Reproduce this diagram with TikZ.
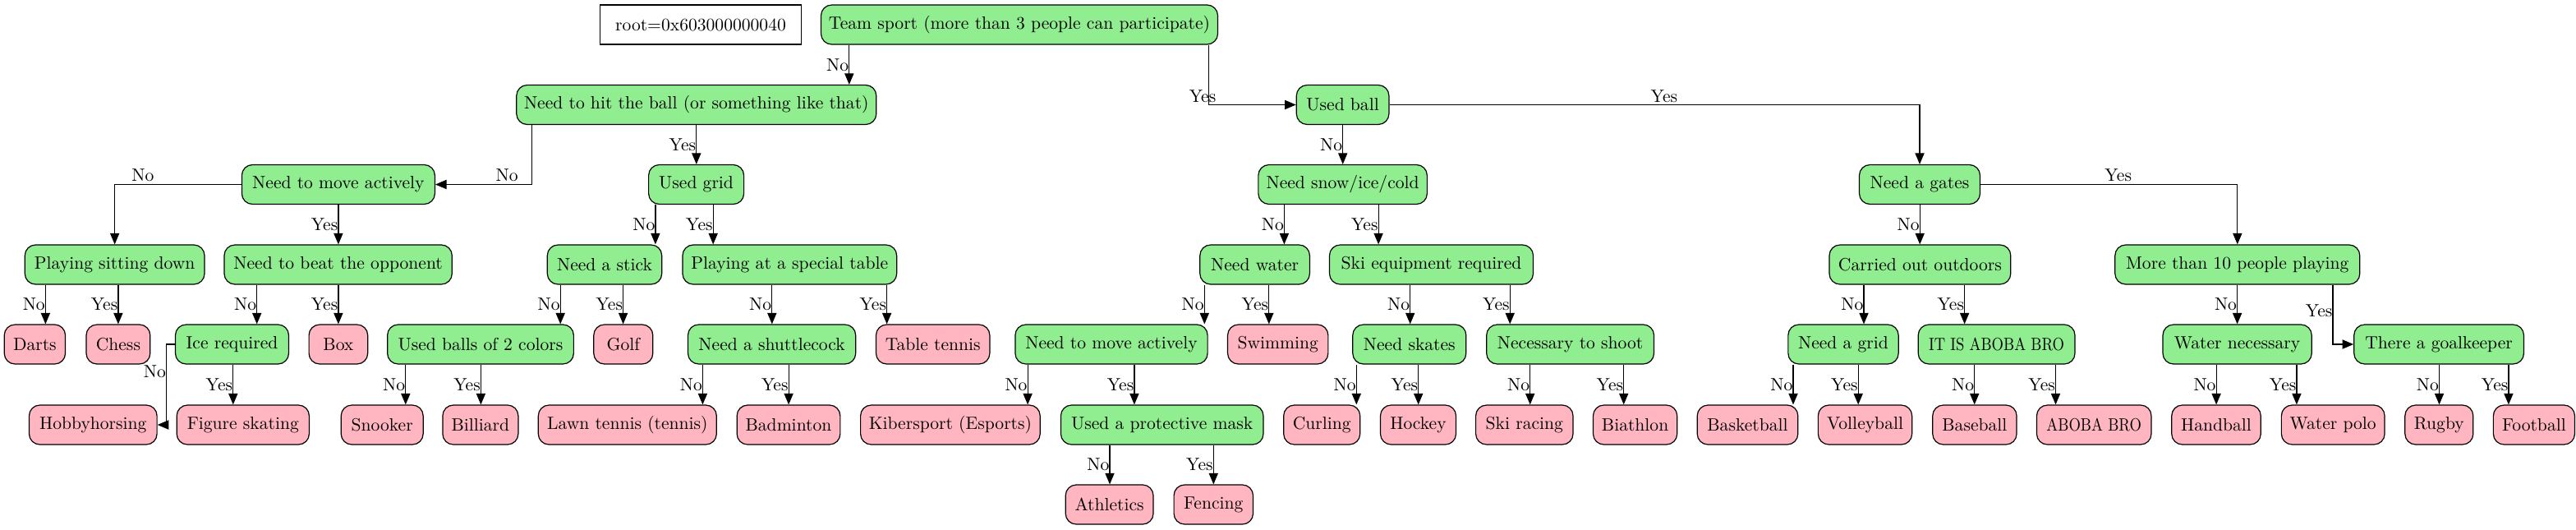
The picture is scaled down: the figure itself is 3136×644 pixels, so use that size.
\documentclass[tikz,border=0pt]{standalone}
\usepackage{graphicx}
\usetikzlibrary{arrows.meta}
\definecolor{lgreen}{HTML}{90EE90}
\definecolor{lpink}{HTML}{FFB6C1}
\newcommand\vedge[4]{\path (#3,0) coordinate (ex);
  \draw[edge] (#1.south -| ex) -- node[lab]{#4} (#2.north -| ex);}
\begin{document}
\begin{tikzpicture}[x=0.5pt,y=-0.5pt,
  every node/.style={font=\fontsize{10.8}{13}\selectfont},
  base/.style={draw=black, line width=0.6pt, rounded corners=6.5pt, minimum height=24pt, inner xsep=2pt, inner ysep=0pt},
  gnode/.style={base, fill=lgreen},
  pnode/.style={base, fill=lpink},
  rootbox/.style={draw=black, line width=0.6pt, fill=white, minimum height=24pt, inner ysep=0pt},
  edge/.style={draw=black, line width=0.6pt, -{Triangle[length=6.8pt,width=5.6pt]}},
  lab/.style={anchor=east, inner sep=0pt},
  hlab/.style={anchor=center, inner sep=0pt}]
\useasboundingbox (0,0) rectangle (3136,644);
% level 0
\node[rootbox, minimum width=122.25pt] (root) at (853,30) {root=0x603000000040};
\node[gnode, minimum width=241.5pt] (team) at (1241,30) {Team sport (more than 3 people can participate)};
% level 1
\node[gnode, minimum width=219pt] (hit) at (847.8,127.5) {Need to hit the ball (or something like that)};
\node[gnode, minimum width=56.3pt] (ball) at (1634.6,127.5) {Used ball};
% level 2
\node[gnode, minimum width=117.5pt] (nma1) at (411.9,224.5) {Need to move actively};
\node[gnode, minimum width=58pt] (grid) at (847.6,224.5) {Used grid};
\node[gnode, minimum width=102.75pt] (snow) at (1634.6,224.5) {Need snow/ice/cold};
\node[gnode, minimum width=73.5pt] (gates) at (2337,224.5) {Need a gates};
% level 3
\node[gnode, minimum width=109.35pt] (psd) at (139.65,322) {Playing sitting down};
\node[gnode, minimum width=138.65pt] (beat) at (411.65,322) {Need to beat the opponent};
\node[gnode, minimum width=69.7pt] (stick) at (736,322) {Need a stick};
\node[gnode, minimum width=130.35pt] (pst) at (961.3,322) {Playing at a special table};
\node[gnode, minimum width=66.8pt] (water) at (1527.6,322) {Need water};
\node[gnode, minimum width=124pt] (ski) at (1742.5,322) {Ski equipment required};
\node[gnode, minimum width=110.4pt] (outd) at (2337.4,322) {Carried out outdoors};
\node[gnode, minimum width=149pt] (more10) at (2723.8,322) {More than 10 people playing};
% level 4
\node[pnode, minimum width=37.15pt] (darts) at (42.4,419) {Darts};
\node[pnode, minimum width=38.9pt] (chess) at (143.9,419) {Chess};
\node[gnode, minimum width=69pt] (ice) at (282.5,419) {Ice required};
\node[pnode, minimum width=35.8pt] (box) at (411.9,419) {Box};
\node[gnode, minimum width=113.35pt] (balls2) at (585,419) {Used balls of 2 colors};
\node[pnode, minimum width=36pt] (golf) at (758.8,419) {Golf};
\node[gnode, minimum width=102.1pt] (shuttle) at (939.6,419) {Need a shuttlecock};
\node[pnode, minimum width=69.2pt] (ttennis) at (1135.7,419) {Table tennis};
\node[gnode, minimum width=117.1pt] (nma2) at (1353,419) {Need to move actively};
\node[pnode, minimum width=61.15pt] (swim) at (1555.7,419) {Swimming};
\node[gnode, minimum width=69pt] (skates) at (1715.8,419) {Need skates};
\node[gnode, minimum width=101.9pt] (shoot) at (1911.6,419) {Necessary to shoot};
\node[gnode, minimum width=67.15pt] (ngrid) at (2244,419) {Need a grid};
\node[gnode, minimum width=95.4pt] (aboba) at (2430.6,419) {\scalebox{0.86}[1]{IT IS ABOBA BRO}};
\node[gnode, minimum width=90.6pt] (wnec) at (2723.6,419) {Water necessary};
\node[gnode, minimum width=103.35pt] (gk) at (2969.1,419) {There a goalkeeper};
% level 5
\node[pnode, minimum width=77.8pt] (hobby) at (113.3,517) {Hobbyhorsing};
\node[pnode, minimum width=80.6pt] (figure) at (295.8,517) {Figure skating};
\node[pnode, minimum width=49.95pt] (snooker) at (465.2,517) {Snooker};
\node[pnode, minimum width=46pt] (billiard) at (584.9,517) {Billiard};
\node[pnode, minimum width=108.5pt] (lawn) at (763.8,517) {Lawn tennis (tennis)};
\node[pnode, minimum width=62.85pt] (badm) at (960,517) {Badminton};
\node[pnode, minimum width=109.3pt] (kiber) at (1156.9,517) {Kibersport (Esports)};
\node[gnode, minimum width=123.25pt] (mask) at (1414.7,517) {Used a protective mask};
\node[pnode, minimum width=46.5pt] (curling) at (1609.2,517) {Curling};
\node[pnode, minimum width=46pt] (hockey) at (1726.5,517) {Hockey};
\node[pnode, minimum width=59.2pt] (skiracing) at (1855.8,517) {Ski racing};
\node[pnode, minimum width=51.1pt] (biathlon) at (1990.6,517) {Biathlon};
\node[pnode, minimum width=61.3pt] (basket) at (2127.5,517) {Basketball};
\node[pnode, minimum width=57.15pt] (volley) at (2270.5,517) {Volleyball};
\node[pnode, minimum width=51.15pt] (baseball) at (2403.9,517) {Baseball};
\node[pnode, minimum width=69.75pt] (abobabro) at (2549.2,517) {\scalebox{0.86}[1]{ABOBA BRO}};
\node[pnode, minimum width=54.25pt] (handball) at (2698,517) {Handball};
\node[pnode, minimum width=62.85pt] (wpolo) at (2840.2,517) {Water polo};
\node[pnode, minimum width=41.5pt] (rugby) at (2969.3,517) {Rugby};
\node[pnode, minimum width=49.55pt] (football) at (3084.9,517) {Football};
% level 6
\node[pnode, minimum width=53.4pt] (athletics) at (1350.6,614) {Athletics};
\node[pnode, minimum width=48.2pt] (fencing) at (1477.3,614) {Fencing};
% vertical edges
\vedge{team}{hit}{1033.8}{No}
\vedge{hit}{grid}{847.8}{Yes}
\vedge{ball}{snow}{1634.7}{No}
\vedge{nma1}{beat}{411.9}{Yes}
\vedge{grid}{stick}{797.9}{No}
\vedge{grid}{pst}{868.2}{Yes}
\vedge{snow}{water}{1563.4}{No}
\vedge{snow}{ski}{1678.1}{Yes}
\vedge{gates}{outd}{2337.2}{No}
\vedge{psd}{darts}{55.4}{No}
\vedge{psd}{chess}{143.9}{Yes}
\vedge{beat}{ice}{312.7}{No}
\vedge{beat}{box}{411.9}{Yes}
\vedge{stick}{balls2}{682.2}{No}
\vedge{stick}{golf}{758.6}{Yes}
\vedge{pst}{shuttle}{939.8}{No}
\vedge{pst}{ttennis}{1079.6}{Yes}
\vedge{water}{nma2}{1466.3}{No}
\vedge{water}{swim}{1544.8}{Yes}
\vedge{ski}{skates}{1716.7}{No}
\vedge{ski}{shoot}{1838.2}{Yes}
\vedge{outd}{ngrid}{2269}{No}
\vedge{outd}{aboba}{2391.6}{Yes}
\vedge{more10}{wnec}{2723.6}{No}
\vedge{ice}{figure}{283.8}{Yes}
\vedge{balls2}{snooker}{493.8}{No}
\vedge{balls2}{billiard}{585.4}{Yes}
\vedge{shuttle}{lawn}{855.4}{No}
\vedge{shuttle}{badm}{960.1}{Yes}
\vedge{nma2}{kiber}{1251.1}{No}
\vedge{nma2}{mask}{1380.9}{Yes}
\vedge{skates}{curling}{1651.3}{No}
\vedge{skates}{hockey}{1726.7}{Yes}
\vedge{shoot}{skiracing}{1862.7}{No}
\vedge{shoot}{biathlon}{1976.7}{Yes}
\vedge{ngrid}{basket}{2183}{No}
\vedge{ngrid}{volley}{2262.2}{Yes}
\vedge{aboba}{baseball}{2403.7}{No}
\vedge{aboba}{abobabro}{2502.5}{Yes}
\vedge{wnec}{handball}{2698.1}{No}
\vedge{wnec}{wpolo}{2795.9}{Yes}
\vedge{gk}{rugby}{2969.5}{No}
\vedge{gk}{football}{3053.9}{Yes}
\vedge{mask}{athletics}{1351}{No}
\vedge{mask}{fencing}{1477.3}{Yes}
% bent edges
\path (1471.5,0) coordinate (e1);
\draw[edge] (team.south -| e1) |- node[pos=0.5, hlab, xshift=-3.75pt, yshift=5.35pt]{Yes} (ball.west);
\draw[edge] (ball.east) -| node[pos=0.259, hlab, yshift=5.25pt]{Yes} (gates.north);
\path (647.4,0) coordinate (e2);
\draw[edge] (hit.south -| e2) |- node[pos=0.629, hlab, yshift=5.5pt]{No} (nma1.east);
\draw[edge] (nma1.west) -| node[pos=0.389, hlab, yshift=5.5pt]{No} (psd.north);
\draw[edge] (gates.east) -| node[pos=0.268, hlab, yshift=5.5pt]{Yes} (more10.north);
\path (202.5,0) coordinate (e3);
\draw[edge] (ice.west) -- (ice.west -| e3) -- node[pos=0.34, lab]{No} (hobby.east -| e3) -- (hobby.east);
\path (2840,0) coordinate (e4);
\draw[edge] (more10.south -| e4) |- node[pos=0.22, lab]{Yes} (gk.west);
\end{tikzpicture}
\end{document}
